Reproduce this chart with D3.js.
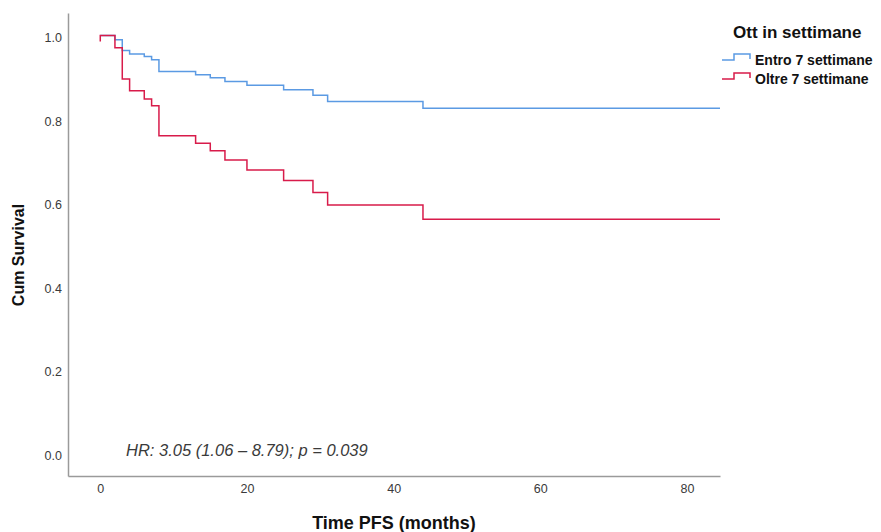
<!DOCTYPE html>
<html lang="it">
<head>
    <meta charset="UTF-8">
    <title>Kaplan-Meier PFS</title>
    <script src="https://cdn.jsdelivr.net/npm/d3@7/dist/d3.min.js"></script>
    <style>
        body {
            margin: 0;
            padding: 0;
            background: #fff;
        }
        text {
            font-family: "Liberation Sans", Arial, sans-serif;
        }
    </style>
</head>
<body>
<svg width="881" height="532" id="mainsvg"></svg>
<script>
    // KM steps
    const times = [0, 2, 3, 4, 6, 7, 8, 13, 15, 17, 20, 25, 29, 31, 44];
    const entroSurv = [1.0, 0.990, 0.964, 0.956, 0.950, 0.942, 0.914, 0.906, 0.899, 0.890, 0.881, 0.870, 0.857, 0.842, 0.826];
    const oltreSurv = [1.0, 0.971, 0.896, 0.868, 0.848, 0.832, 0.760, 0.742, 0.724, 0.702, 0.678, 0.653, 0.624, 0.594, 0.560];
    const oltreStartTick = 0.986;
    const lastTime = 84.5;
    const groups = ["Entro 7 settimane", "Oltre 7 settimane"];
    const groupColors = ["#5b9ae3", "#d81b4a"];
    const yTicks = [0, 0.2, 0.4, 0.6, 0.8, 1.0];
    const xTicks = [0, 20, 40, 60, 80];

    const svg = d3.select("#mainsvg");
    const x = d3.scaleLinear().domain([-4.4, 84.5]).range([68, 720]);
    const y = d3.scaleLinear().domain([-0.055, 1.054]).range([476, 13]);

    // axes
    const yAxis = svg.append("g")
        .attr("transform", "translate(68,0)")
        .call(d3.axisLeft(y).tickValues(yTicks).tickFormat(d3.format(".1f"))
            .tickSize(0).tickSizeOuter(0).tickPadding(6));
    const xAxis = svg.append("g")
        .attr("transform", "translate(0,476)")
        .call(d3.axisBottom(x).tickValues(xTicks).tickFormat(d3.format("d"))
            .tickSize(0).tickSizeOuter(0).tickPadding(8));
    [xAxis, yAxis].forEach(a => {
        a.select(".domain").attr("stroke", "#9a9a9a").attr("stroke-width", 1.5);
        a.selectAll("text").attr("font-size", "12.5px").attr("fill", "#3a3a3a")
            .attr("font-family", "'Liberation Sans', Arial, sans-serif");
    });
    yAxis.selectAll("text").attr("dy", "0.5em");

    // curves
    const line = d3.line()
        .x(d => x(d[0]))
        .y(d => y(d[1]))
        .curve(d3.curveStepAfter);

    function curvePoints(surv) {
        let pts = times.map((t, i) => [t, surv[i]]);
        pts.push([lastTime, surv[surv.length - 1]]);
        return pts;
    }

    let entroPts = curvePoints(entroSurv);
    let oltrePts = [[0, oltreStartTick]].concat(curvePoints(oltreSurv));

    svg.append("path")
        .attr("d", line(entroPts))
        .attr("fill", "none")
        .attr("stroke", groupColors[0])
        .attr("stroke-width", 1.5);
    svg.append("path")
        .attr("d", d3.line().x(d => x(d[0])).y(d => y(d[1]))(oltrePts.slice(0, 2)) + line(oltrePts.slice(1)).replace("M", "L"))
        .attr("fill", "none")
        .attr("stroke", groupColors[1])
        .attr("stroke-width", 1.5);

    // axis titles
    svg.append("text")
        .attr("transform", "translate(24,255) rotate(-90)")
        .attr("text-anchor", "middle")
        .attr("font-size", "16px")
        .attr("font-weight", "bold")
        .attr("fill", "#111")
        .text("Cum Survival");
    svg.append("text")
        .attr("x", 394)
        .attr("y", 529)
        .attr("text-anchor", "middle")
        .attr("font-size", "18px")
        .attr("font-weight", "bold")
        .attr("fill", "#111")
        .text("Time PFS (months)");

    // annotation
    svg.append("text")
        .attr("x", 126)
        .attr("y", 456)
        .attr("font-size", "16.5px")
        .attr("font-style", "italic")
        .attr("fill", "#3a3a3a")
        .text("HR: 3.05 (1.06 \u2013 8.79); p = 0.039");

    // legend
    svg.append("text")
        .attr("x", 733)
        .attr("y", 38)
        .attr("font-size", "17px")
        .attr("font-weight", "bold")
        .attr("fill", "#111")
        .text("Ott in settimane");
    groups.forEach((g, i) => {
        let ly = 60 + i * 19;
        svg.append("path")
            .attr("d", "M722," + ly + "H734V" + (ly - 6) + "H750V" + (ly - 1))
            .attr("fill", "none")
            .attr("stroke", groupColors[i])
            .attr("stroke-width", 1.5);
        svg.append("text")
            .attr("x", 755)
            .attr("y", ly + 5)
            .attr("font-size", "14px")
            .attr("font-weight", "bold")
            .attr("fill", "#111")
            .text(g);
    });
</script>
</body>
</html>
